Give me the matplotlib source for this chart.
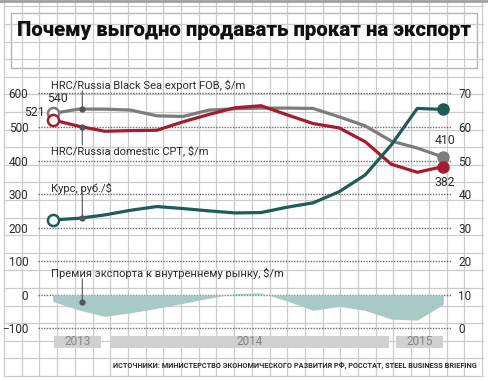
import matplotlib
matplotlib.use("Agg")
import matplotlib.pyplot as plt
import numpy as np
from matplotlib import font_manager
from matplotlib.patches import Rectangle

# monthly data, Nov 2013 - Feb 2015
months = ["11.2013", "12.2013", "01.2014", "02.2014", "03.2014", "04.2014", "05.2014", "06.2014",
          "07.2014", "08.2014", "09.2014", "10.2014", "11.2014", "12.2014", "01.2015", "02.2015"]
export_fob = [540, 553, 553, 550, 533, 531, 550, 554, 556, 556, 555, 530, 503, 458, 437, 410]
domestic_cpt = [521, 502, 487, 489, 490, 515, 537, 557, 563, 536, 510, 497, 456, 389, 365, 382]
rub_usd = [32.3, 32.8, 33.8, 35.2, 36.3, 35.7, 35.0, 34.4, 34.5, 36.1, 37.4, 40.7, 45.7, 54.6, 65.5, 65.2]
premium = [-19, -45, -64, -53, -40, -25, -10, 4, 6, -18, -46, -34, -46, -72, -75, -28]
years = ["2013", "2014", "2015"]
year_spans = [(0.05, 1.86), (2.2, 12.9), (13.2, 14.98)]

GRAY = "#7c7c7c"
RED = "#a51c30"
TEAL = "#1d5c57"
AREA = "#a8cac6"
INK = "#2b2b2b"

names = {f.name for f in font_manager.fontManager.ttflist}
NARROW = "Liberation Sans Narrow" if "Liberation Sans Narrow" in names else "Roboto"
plt.rcParams["font.family"] = [NARROW, "DejaVu Sans"]

fig = plt.figure(figsize=(4.89, 3.81), dpi=100)

# background "graph paper" in pixel coordinates
bg = fig.add_axes([0, 0, 1, 1], zorder=0)
bg.set_xlim(0, 489)
bg.set_ylim(381, 0)
bg.axis("off")
for gx in np.arange(4, 484, 17.7):
    bg.plot([gx, gx], [1, 376], color="#cbcbcb", lw=0.9)
for gy in np.arange(376, 0, -17.6):
    bg.plot([4, 482.9], [gy, gy], color="#cbcbcb", lw=0.9)
bg.plot([0, 489], [1, 1], color="#a0a0a0", lw=2)
bg.add_patch(Rectangle((11, 13), 466, 55, fc="white", ec="#b5b5b5", lw=1))
bg.text(244, 30, "Почему выгодно продавать прокат на экспорт", ha="center", va="center",
        fontsize=14.7, fontweight="black", family=["Roboto", "DejaVu Sans"], color="#111111")

# main chart
ax = fig.add_axes([38 / 489, 31 / 381, 414 / 489, 270 / 381], zorder=2)
ax.patch.set_alpha(0)
x = np.arange(len(months))
ax.set_xlim(-0.5645, 15.334)
ax.set_ylim(-164, 639.6)
for s in ax.spines.values():
    s.set_visible(False)
ax.set_xticks([])
ax.set_yticks(range(-100, 700, 100))
ax.tick_params(axis="y", length=0, pad=7, labelsize=8.5, labelcolor=INK)
ax.yaxis.grid(True, color="#6a6a6a", ls=(0, (1, 1)), lw=1.0)
ax.set_axisbelow(True)

ax.fill_between(x, 0, premium, color=AREA, lw=0, zorder=1)
ax.plot(x, export_fob, color=GRAY, lw=2.3, zorder=4, solid_joinstyle="round")
ax.plot(x, domestic_cpt, color=RED, lw=2.3, zorder=4, solid_joinstyle="round")
for ser, col in [(export_fob, GRAY), (domestic_cpt, RED)]:
    ax.plot(x[0], ser[0], "o", ms=8, mfc="white", mec=col, mew=1.8, zorder=6)
    ax.plot(x[-1], ser[-1], "o", ms=8, color=col, zorder=6)

for (a, b), lab in zip(year_spans, years):
    ax.add_patch(Rectangle((a, -158), b - a, 36, fc="#d0d0d0", ec="none", zorder=1))
    ax.text((a + b) / 2, -140, lab, ha="center", va="center", fontsize=8.5, color="#858585")

ax2 = ax.twinx()
ax2.set_zorder(3)
ax2.patch.set_alpha(0)
ax2.set_ylim(-6.4, 73.96)
for s in ax2.spines.values():
    s.set_visible(False)
ax2.set_yticks(range(0, 80, 10))
ax2.tick_params(axis="y", length=0, pad=4.5, labelsize=8.5, labelcolor=INK)
ax2.plot(x, rub_usd, color=TEAL, lw=2.3, zorder=4, solid_joinstyle="round")
ax2.plot(x[0], rub_usd[0], "o", ms=8, mfc="white", mec=TEAL, mew=1.8, zorder=6)
ax2.plot(x[-1], rub_usd[-1], "o", ms=8, color=TEAL, zorder=6)

# leader dots and labels
xi = 1.137
lead = dict(arrowstyle="-", color="#555555", lw=0.8, shrinkA=0, shrinkB=0)
for axis, yv, ty in [(ax, np.interp(xi, x, export_fob), 91), (ax, np.interp(xi, x, domestic_cpt), 145),
                     (ax2, np.interp(xi, x, rub_usd), 193), (ax, -20, 279)]:
    axis.plot(xi, yv, "o", ms=3.5, color="#555555", zorder=7)
    axis.annotate("", xy=(xi, yv), xycoords="data", xytext=(82.3, ty), textcoords=bg.transData,
                  arrowprops=lead, zorder=7)

lab_kw = dict(ha="left", va="center", fontsize=8.0, color=INK)
bg.text(51, 85, "HRC/Russia Black Sea export FOB, $/m", **lab_kw)
bg.text(51, 151, "HRC/Russia domestic CPT, $/m", **lab_kw)
bg.text(51, 188, "Курс, руб./$", **lab_kw)
bg.text(51, 273, "Премия экспорта к внутреннему рынку, $/m", **lab_kw)

num_kw = dict(va="center", fontsize=8.8, color=INK)
bg.text(57, 99, f"{export_fob[0]}", ha="center", **num_kw)
bg.text(45, 113, f"{domestic_cpt[0]}", ha="right", **num_kw)
bg.text(445, 141, f"{export_fob[-1]}", ha="center", **num_kw)
bg.text(445, 182, f"{domestic_cpt[-1]}", ha="center", **num_kw)

bg.text(477, 366, "ИСТОЧНИКИ: МИНИСТЕРСТВО ЭКОНОМИЧЕСКОГО РАЗВИТИЯ РФ, РОССТАТ, STEEL BUSINESS BRIEFING",
        ha="right", va="center", fontsize=5.3, fontweight="bold", color=INK)

fig.savefig("out.png", dpi=100)
